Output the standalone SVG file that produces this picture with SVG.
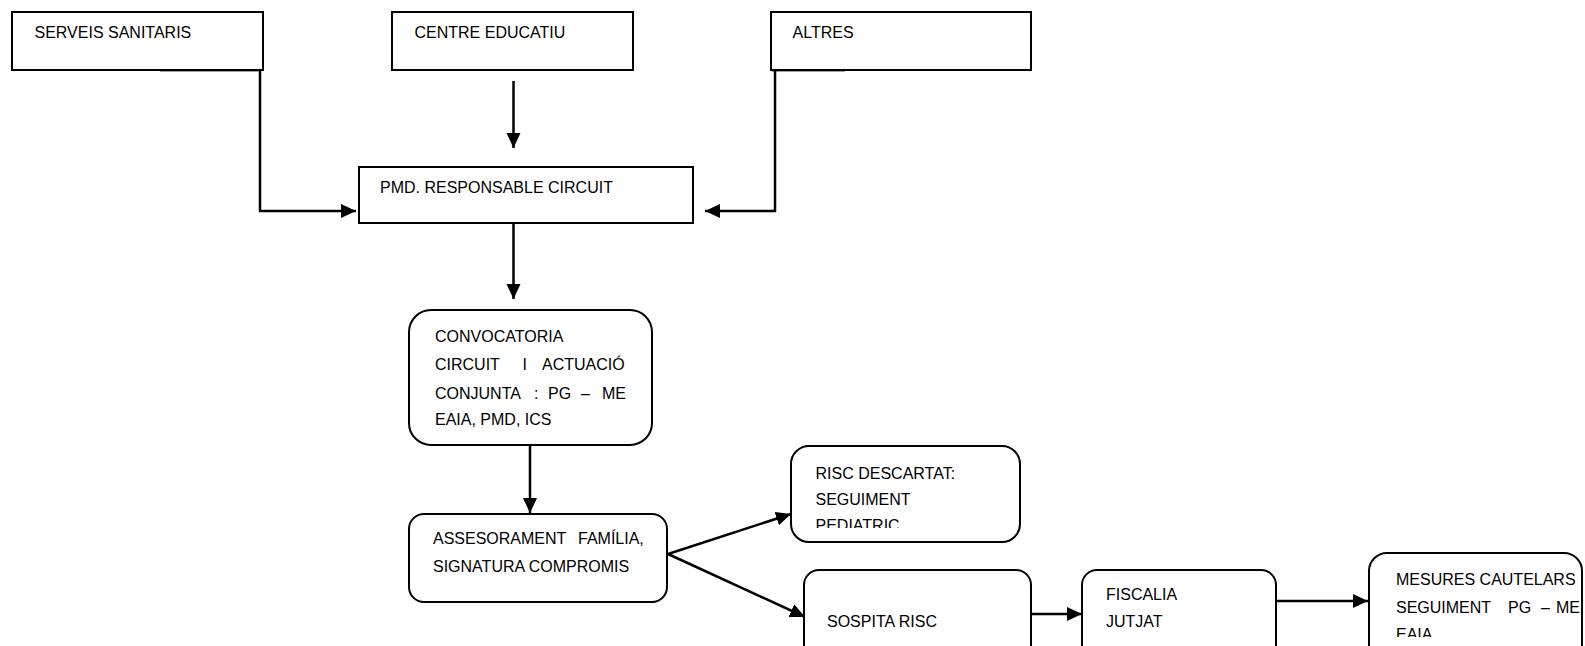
<svg xmlns="http://www.w3.org/2000/svg" width="1585" height="646" viewBox="0 0 1585 646">
<style>
.box{fill:#fff;stroke:#000;stroke-width:2}
.t{font-family:"Liberation Sans",Arial,sans-serif;font-size:16px;fill:#000}
.c{fill:none;stroke:#000;stroke-width:2.5}
.g{fill:none;stroke:#808080;stroke-width:1.5}
</style>
<defs>
<marker id="ah" markerUnits="userSpaceOnUse" markerWidth="16" markerHeight="16" refX="15" refY="7" orient="auto">
<path d="M0,0 L15,7 L0,14 z" fill="#000"/>
</marker>
<clipPath id="clipRisc"><rect x="790" y="440" width="240" height="88"/></clipPath>
<clipPath id="clipMes"><rect x="1360" y="550" width="225" height="87"/></clipPath>
</defs>
<rect width="1585" height="646" fill="#fff"/>
<g id="connectors">
<line class="g" x1="160" y1="71" x2="261" y2="71"/>
<line class="g" x1="772" y1="71" x2="845" y2="71"/>
<polyline class="c" points="260,70 260,211 356,211" marker-end="url(#ah)"/>
<line class="c" x1="513.5" y1="81" x2="513.5" y2="148" marker-end="url(#ah)"/>
<polyline class="c" points="775,70 775,211 705,211" marker-end="url(#ah)"/>
<line class="c" x1="513.5" y1="223" x2="513.5" y2="299" marker-end="url(#ah)"/>
<line class="c" x1="530" y1="445" x2="530" y2="513" marker-end="url(#ah)"/>
<line class="c" x1="668" y1="554" x2="791" y2="514" marker-end="url(#ah)"/>
<line class="c" x1="668" y1="554" x2="805" y2="617" marker-end="url(#ah)"/>
<line class="c" x1="1032" y1="614" x2="1082" y2="614" marker-end="url(#ah)"/>
<line class="c" x1="1267" y1="601" x2="1368" y2="601" marker-end="url(#ah)"/>
</g>
<g id="serveis">
<rect class="box" x="12" y="12" width="251" height="58"/>
<text class="t" x="34.5" y="38">SERVEIS SANITARIS</text>
</g>
<g id="centre">
<rect class="box" x="392" y="12" width="241" height="58"/>
<text class="t" x="414.5" y="38">CENTRE EDUCATIU</text>
</g>
<g id="altres">
<rect class="box" x="771" y="12" width="260" height="58"/>
<text class="t" x="792.5" y="38">ALTRES</text>
</g>
<g id="pmd">
<rect class="box" x="359" y="167" width="334" height="56"/>
<text class="t" x="380" y="193">PMD. RESPONSABLE CIRCUIT</text>
</g>
<g id="convocatoria">
<rect class="box" x="409" y="310" width="243" height="135" rx="22"/>
<text class="t" x="435" y="342">CONVOCATORIA</text>
<text class="t" y="370"><tspan x="435">CIRCUIT</tspan><tspan x="518"> I</tspan><tspan x="542">ACTUACIÓ</tspan></text>
<text class="t" y="398.5"><tspan x="435">CONJUNTA</tspan><tspan x="534">:</tspan><tspan x="548">PG</tspan><tspan x="581">–</tspan><tspan x="602">ME</tspan></text>
<text class="t" x="435" y="425">EAIA, PMD, ICS</text>
</g>
<g id="assesorament">
<rect class="box" x="409" y="514" width="258" height="88" rx="15"/>
<text class="t" y="544"><tspan x="433">ASSESORAMENT</tspan><tspan x="578">FAMÍLIA,</tspan></text>
<text class="t" x="433" y="572">SIGNATURA COMPROMIS</text>
</g>
<g id="risc-descartat">
<rect class="box" x="791" y="446" width="229" height="96" rx="18"/>
<g clip-path="url(#clipRisc)">
<text class="t" x="815.5" y="478.5">RISC DESCARTAT:</text>
<text class="t" x="815.5" y="504.5">SEGUIMENT</text>
<text class="t" x="815.5" y="531">PEDIATRIC</text>
</g>
</g>
<g id="sospita">
<rect class="box" x="804" y="570" width="227" height="100" rx="15"/>
<text class="t" x="827" y="626.5">SOSPITA RISC</text>
</g>
<g id="fiscalia">
<rect class="box" x="1082" y="570" width="194" height="100" rx="15"/>
<text class="t" x="1106" y="599.5">FISCALIA</text>
<text class="t" x="1106" y="626.5">JUTJAT</text>
</g>
<g id="mesures">
<rect class="box" x="1369" y="553" width="213" height="110" rx="18"/>
<g clip-path="url(#clipMes)">
<text class="t" x="1396" y="585">MESURES CAUTELARS</text>
<text class="t" y="613"><tspan x="1396">SEGUIMENT</tspan><tspan x="1508">PG</tspan><tspan x="1541">–</tspan><tspan x="1556">ME</tspan></text>
<text class="t" x="1396" y="640">EAIA</text>
</g>
</g>
</svg>
